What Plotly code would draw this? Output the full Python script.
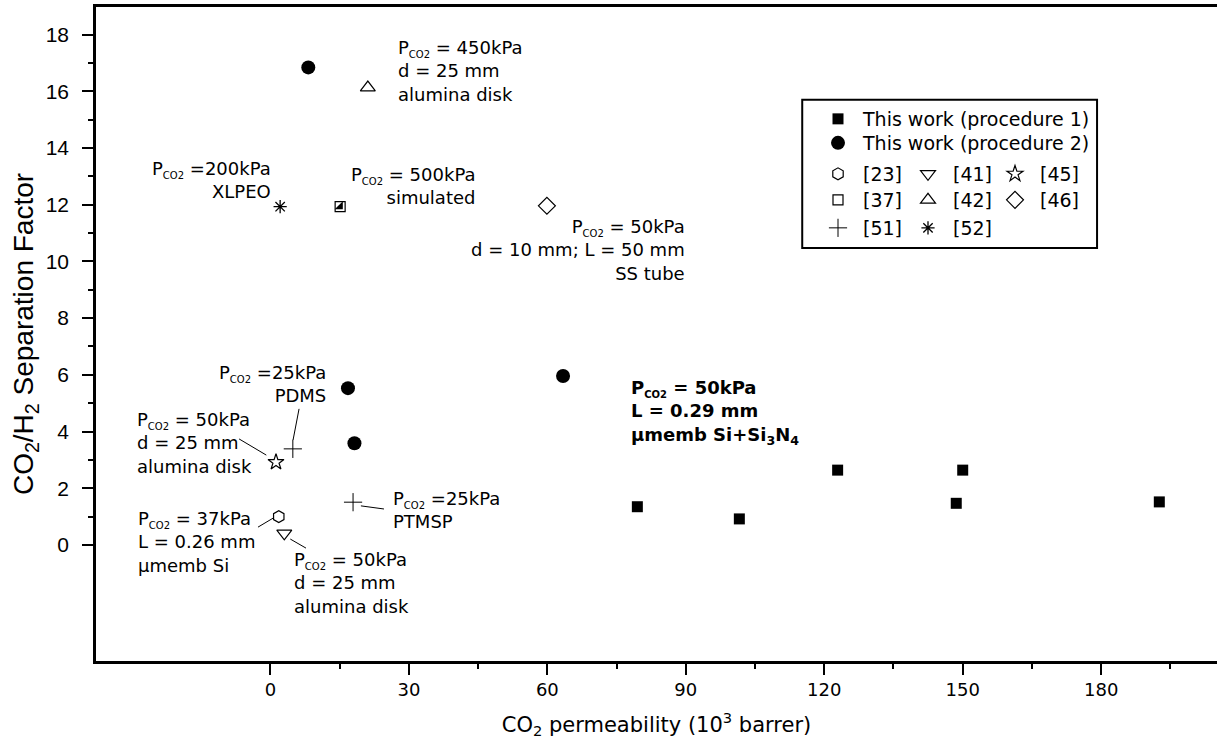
import plotly.graph_objects as go

# ---------------- data ----------------
proc1_x = [79.5, 101.6, 122.9, 148.6, 150.0, 192.6]
proc1_y = [1.35, 0.92, 2.64, 1.47, 2.64, 1.52]
proc2_x = [8.2, 16.8, 18.2, 63.4]
proc2_y = [16.84, 5.53, 3.59, 5.96]
ref23_x, ref23_y = [1.8], [1.0]
ref41_x, ref41_y = [3.0], [0.41]
ref45_x, ref45_y = [1.2], [2.92]
ref37_x, ref37_y = [15.1], [11.93]
ref42_x, ref42_y = [21.1], [16.13]
ref46_x, ref46_y = [59.9], [11.96]
ref51_x, ref51_y = [4.85, 17.9], [3.39, 1.51]
ref52_x, ref52_y = [2.1], [11.93]

x_ticks = [0, 30, 60, 90, 120, 150, 180]
x_minor = [15, 45, 75, 105, 135, 165, 195]
y_ticks = [0, 2, 4, 6, 8, 10, 12, 14, 16, 18]
y_minor = [1, 3, 5, 7, 9, 11, 13, 15, 17]

FONT = "DejaVu Sans"
SUB = "<sub><span style='font-size:10px'>CO2</span></sub>"

fig = go.Figure()

def add(x, y, name, symbol, size, legend, lw=1.2, show=True):
    fig.add_trace(go.Scatter(
        x=x, y=y, mode="markers", name=name, legend=legend, showlegend=show,
        marker=dict(symbol=symbol, size=size, color="black",
                    line=dict(color="black", width=lw))))

add(proc1_x, proc1_y, "This work (procedure 1)", "square", 11, "legend", lw=0)
add(proc2_x, proc2_y, "This work (procedure 2)", "circle", 14, "legend2", lw=0)
add(ref23_x, ref23_y, "[23]", "hexagon-open", 12, "legend3")
add(ref41_x, ref41_y, "[41]", "triangle-down-open", 13, "legend4")
add(ref45_x, ref45_y, "[45]", "star-open", 12, "legend5")
add(ref37_x, ref37_y, "[37]", "square-open", 10, "legend6")
add(ref37_x, ref37_y, "[37]", "triangle-se", 9, "legend6", lw=0, show=False)
add(ref42_x, ref42_y, "[42]", "triangle-up-open", 13, "legend7")
add(ref46_x, ref46_y, "[46]", "diamond-open", 13, "legend8")
add(ref51_x, ref51_y, "[51]", "cross-thin-open", 13, "legend9", lw=1)
add(ref52_x, ref52_y, "[52]", "asterisk-open", 11, "legend10", lw=1.3)

# ---------------- annotations ----------------
ann = [
    (27.2, 16.70, "left", "P" + SUB + " = 450kPa<br>d = 25 mm<br>alumina disk", False),
    (0.6, 12.87, "right", "P" + SUB + " =200kPa<br>XLPEO", False),
    (44.8, 12.65, "right", "P" + SUB + " = 500kPa<br>simulated", False),
    (90.2, 10.41, "right", "P" + SUB + " = 50kPa<br>d = 10 mm; L = 50 mm<br>SS tube", False),
    (12.5, 5.68, "right", "P" + SUB + " =25kPa<br>PDMS", False),
    (-29.4, 3.60, "left", "P" + SUB + " = 50kPa<br>d = 25 mm<br>alumina disk", False),
    (26.1, 1.23, "left", "P" + SUB + " =25kPa<br>PTMSP", False),
    (-29.2, 0.11, "left", "P" + SUB + " = 37kPa<br>L = 0.26 mm<br>\u03bcmemb Si", False),
    (4.6, -1.34, "left", "P" + SUB + " = 50kPa<br>d = 25 mm<br>alumina disk", False),
    (77.6, 4.67, "left", "P" + SUB + " = 50kPa<br>L = 0.29 mm<br>\u03bcmemb Si+Si<sub>3</sub>N<sub>4</sub>", True),
]
for x, y, side, txt, bold in ann:
    fig.add_annotation(x=x, y=y, xref="x", yref="y", text=("<b>" + txt + "</b>") if bold else txt,
                       showarrow=False, xanchor=side, yanchor="middle", align=side,
                       font=dict(family=FONT, size=18, color="black"))

# leader lines
leaders = [
    (6.2, 4.80, 4.9, 3.70),
    (-6.8, 3.74, -0.9, 3.17),
    (19.6, 1.38, 24.6, 1.27),
    (-2.7, 0.63, 0.6, 0.95),
    (4.3, 0.21, 7.7, -0.11),
]
for x0, y0, x1, y1 in leaders:
    fig.add_shape(type="line", xref="x", yref="y", x0=x0, y0=y0, x1=x1, y1=y1,
                  line=dict(color="black", width=1))

# legend frame
fig.add_shape(type="rect", xref="paper", yref="paper", x0=0.630, x1=0.893, y0=0.6315, y1=0.858,
              line=dict(color="black", width=2), fillcolor="rgba(0,0,0,0)")

def leg(px_x, px_y):
    return dict(x=(px_x - 96) / 1121, y=(661 - px_y) / 654, xanchor="left", yanchor="middle",
                bgcolor="rgba(0,0,0,0)", borderwidth=0, itemwidth=40,
                font=dict(family=FONT, size=19, color="black"))

C1, C2, C3 = 813, 903, 990
R1, R2, R3, R4, R5 = 119, 143, 174, 200, 228

axis_common = dict(showgrid=False, zeroline=False, showline=True, linecolor="black", linewidth=2.5,
                   ticks="outside", ticklen=11, tickwidth=2, tickcolor="black", tickmode="array")

fig.update_layout(
    width=1217, height=742,
    margin=dict(l=96, r=0, t=7, b=81),
    paper_bgcolor="white", plot_bgcolor="white",
    font=dict(family=FONT, size=18, color="black"),
    xaxis=dict(range=[-37.8, 205.1], tickvals=x_ticks, mirror=True,
               minor=dict(tickvals=x_minor, ticklen=5, tickwidth=2, ticks="outside", tickcolor="black"),
               tickfont=dict(family=FONT, size=18),
               title=dict(text="CO<sub>2</sub> permeability (10<sup>3</sup> barrer)",
                          font=dict(family=FONT, size=21), standoff=18),
               **axis_common),
    yaxis=dict(range=[-4.09, 18.97], tickvals=y_ticks, mirror=False,
               minor=dict(tickvals=y_minor, ticklen=5, tickwidth=2, ticks="outside", tickcolor="black"),
               tickfont=dict(family="Liberation Sans", size=21),
               ticklabelstandoff=9,
               title=dict(text="CO<sub>2</sub>/H<sub>2</sub> Separation Factor",
                          font=dict(family="Liberation Sans", size=28), standoff=4),
               **axis_common),
    legend=leg(C1, R1), legend2=leg(C1, R2),
    legend3=leg(C1, R3), legend4=leg(C2, R3), legend5=leg(C3, R3),
    legend6=leg(C1, R4), legend7=leg(C2, R4), legend8=leg(C3, R4),
    legend9=leg(C1, R5), legend10=leg(C2, R5),
)

fig.write_html("out.html")
